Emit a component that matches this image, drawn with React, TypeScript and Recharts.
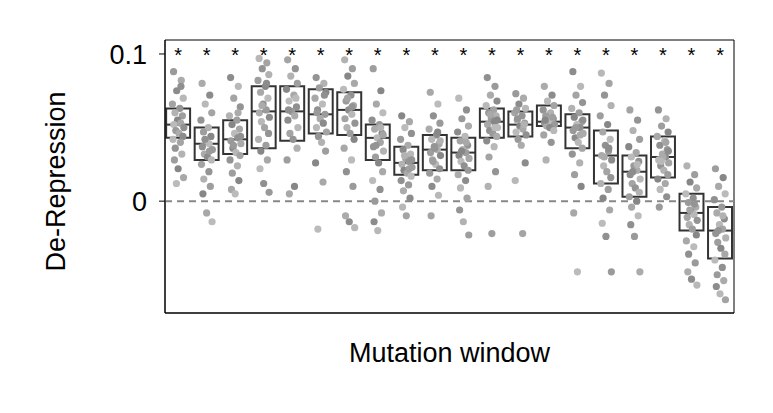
import {
  ComposedChart,
  Scatter,
  XAxis,
  YAxis,
  ReferenceArea,
  ReferenceLine,
} from 'recharts'

// box stats per mutation window: [q1, median, q3]
const Q1 = [0.043, 0.028, 0.032, 0.036, 0.041, 0.046, 0.045, 0.028, 0.018, 0.021, 0.021, 0.043, 0.044, 0.051, 0.036, 0.012, 0.003, 0.016, -0.02, -0.039]
const MEDIAN = [0.052, 0.039, 0.042, 0.061, 0.061, 0.059, 0.062, 0.043, 0.026, 0.035, 0.033, 0.054, 0.052, 0.054, 0.05, 0.031, 0.02, 0.03, -0.008, -0.02]
const Q3 = [0.063, 0.05, 0.055, 0.078, 0.078, 0.076, 0.074, 0.052, 0.037, 0.045, 0.043, 0.063, 0.061, 0.065, 0.059, 0.048, 0.031, 0.044, 0.005, -0.004]

const POINTS: number[][] = [
  [0.088, 0.082, 0.075, 0.07, 0.066, 0.063, 0.06, 0.058, 0.055, 0.053, 0.052, 0.05, 0.048, 0.046, 0.044, 0.042, 0.04, 0.036, 0.032, 0.028, 0.022, 0.016, 0.012, 0.078],
  [0.08, 0.072, 0.066, 0.06, 0.055, 0.05, 0.047, 0.044, 0.041, 0.039, 0.037, 0.035, 0.032, 0.03, 0.028, 0.025, 0.02, 0.015, 0.01, 0.005, -0.008, -0.014, 0.042, 0.034],
  [0.084, 0.078, 0.07, 0.064, 0.058, 0.055, 0.052, 0.049, 0.046, 0.043, 0.041, 0.039, 0.036, 0.033, 0.031, 0.028, 0.024, 0.019, 0.014, 0.008, 0.005, 0.044, 0.038, 0.06],
  [0.097, 0.094, 0.09, 0.086, 0.082, 0.078, 0.074, 0.07, 0.066, 0.062, 0.06, 0.057, 0.054, 0.05, 0.046, 0.042, 0.038, 0.034, 0.028, 0.022, 0.012, 0.006, 0.065, 0.08],
  [0.096, 0.09, 0.085, 0.08, 0.076, 0.072, 0.068, 0.064, 0.061, 0.058, 0.055, 0.05, 0.046, 0.042, 0.036, 0.028, 0.01, 0.005, 0.07, 0.062],
  [0.084, 0.08, 0.077, 0.074, 0.07, 0.066, 0.062, 0.059, 0.056, 0.053, 0.05, 0.047, 0.044, 0.04, 0.034, 0.026, 0.013, -0.019, 0.072, 0.06],
  [0.096, 0.09, 0.085, 0.08, 0.076, 0.072, 0.068, 0.065, 0.062, 0.059, 0.056, 0.053, 0.05, 0.046, 0.042, 0.036, 0.028, 0.02, 0.01, -0.01, -0.014, -0.018, 0.07, 0.064],
  [0.09, 0.075, 0.066, 0.06, 0.055, 0.052, 0.049, 0.046, 0.043, 0.04, 0.037, 0.034, 0.03, 0.026, 0.02, 0.014, 0.008, 0.0, -0.008, -0.014, -0.02, 0.045, 0.038, 0.05],
  [0.058, 0.054, 0.05, 0.046, 0.042, 0.038, 0.035, 0.032, 0.029, 0.027, 0.025, 0.023, 0.021, 0.019, 0.017, 0.014, 0.011, 0.007, 0.002, -0.004, -0.01, 0.028, 0.031, 0.022],
  [0.074, 0.066, 0.058, 0.053, 0.049, 0.045, 0.042, 0.039, 0.037, 0.035, 0.033, 0.031, 0.028, 0.025, 0.022, 0.019, 0.015, 0.01, 0.004, -0.01, 0.036, 0.041, 0.027, 0.047],
  [0.07, 0.062, 0.056, 0.051, 0.047, 0.044, 0.041, 0.038, 0.035, 0.033, 0.031, 0.029, 0.027, 0.024, 0.021, 0.018, 0.014, 0.009, 0.002, -0.006, -0.014, -0.023, 0.034, 0.04],
  [0.084, 0.078, 0.072, 0.068, 0.065, 0.062, 0.06, 0.058, 0.056, 0.054, 0.052, 0.05, 0.048, 0.046, 0.044, 0.041, 0.037, 0.03, 0.02, 0.01, -0.022, 0.055, 0.059, 0.05],
  [0.073, 0.07, 0.066, 0.063, 0.06, 0.058, 0.055, 0.053, 0.051, 0.049, 0.047, 0.045, 0.042, 0.038, 0.026, 0.014, -0.022, 0.056, 0.052, 0.062],
  [0.078, 0.072, 0.068, 0.065, 0.062, 0.06, 0.058, 0.056, 0.055, 0.054, 0.053, 0.052, 0.051, 0.05, 0.048, 0.045, 0.04, 0.028, 0.057, 0.055],
  [0.088, 0.078, 0.072, 0.067, 0.063, 0.06, 0.057, 0.054, 0.052, 0.05, 0.048, 0.046, 0.043, 0.04, 0.036, 0.032, 0.026, 0.018, 0.01, -0.008, -0.048, 0.055, 0.05, 0.045],
  [0.087, 0.08, 0.072, 0.065, 0.058, 0.052, 0.047, 0.042, 0.038, 0.034, 0.031, 0.028, 0.024, 0.02, 0.016, 0.012, 0.008, 0.002, -0.006, -0.015, -0.024, -0.048, 0.03, 0.036],
  [0.062, 0.055, 0.048, 0.042, 0.037, 0.033, 0.03, 0.027, 0.024, 0.021, 0.018, 0.015, 0.012, 0.009, 0.006, 0.003, 0.0, -0.004, -0.01, -0.016, -0.024, -0.048, 0.02, 0.025],
  [0.062, 0.056, 0.051, 0.047, 0.044, 0.041, 0.038, 0.035, 0.032, 0.03, 0.028, 0.026, 0.024, 0.021, 0.018, 0.015, 0.012, 0.008, 0.003, -0.004, 0.03, 0.034, 0.027, 0.04],
  [0.024, 0.018, 0.013, 0.009, 0.005, 0.002, -0.001, -0.004, -0.007, -0.009, -0.011, -0.013, -0.016, -0.019, -0.023, -0.027, -0.031, -0.036, -0.042, -0.048, -0.053, -0.057, -0.006, -0.002],
  [0.022, 0.016, 0.01, 0.005, 0.001, -0.004, -0.008, -0.012, -0.016, -0.019, -0.022, -0.025, -0.028, -0.032, -0.036, -0.04, -0.045, -0.05, -0.054, -0.058, -0.063, -0.067, -0.02, -0.01],
]

// horizontal jitter (in window units) and grey shade for each measurement slot
const JITTER = [-0.16, 0.11, -0.05, 0.18, -0.2, 0.06, -0.11, 0.15, -0.02, 0.09, -0.15, 0.2, -0.08, 0.03, 0.17, -0.18, 0.08, -0.1, 0.13, -0.13, 0.0, 0.19, -0.06, 0.1]
const SHADES = ['#9a9a9a', '#ababab', '#8c8c8c', '#b8b8b8', '#a4a4a4', '#949494', '#b2b2b2', '#9e9e9e', '#878787', '#a8a8a8', '#bbbbbb', '#909090']

const WINDOWS = POINTS.map((_, i) => i + 1)

const dots = POINTS.flatMap((vals, g) =>
  vals.map((v, j) => ({ x: g + 1 + JITTER[j % JITTER.length], y: v, fill: SHADES[(j + g) % SHADES.length] }))
)
const stars = WINDOWS.map((w) => ({ x: w, y: 0.1015 }))

const BOX_HALF = 0.42
const FONT = 'Helvetica, Arial, "Liberation Sans", sans-serif'

export default function App() {
  return (
    <div style={{ margin: -8 }}>
      <ComposedChart
        width={773}
        height={413}
        margin={{ top: 40, right: 39, left: 0, bottom: 0 }}
        style={{ fontFamily: FONT }}
      >
        <XAxis
          type="number"
          dataKey="x"
          domain={[0.54, 20.49]}
          ticks={[]}
          tick={false}
          axisLine={{ stroke: '#000' }}
          height={100}
          label={{ value: 'Mutation window', position: 'insideTop', offset: 30, fontSize: 27, fill: '#000' }}
        />
        <YAxis
          type="number"
          dataKey="y"
          domain={[-0.076, 0.1095]}
          ticks={[0, 0.1]}
          tickFormatter={(v) => (v === 0 ? '0' : String(v))}
          tick={{ fontSize: 27, fill: '#000', dx: -10 }}
          tickSize={6}
          axisLine={{ stroke: '#000' }}
          tickLine={{ stroke: '#000' }}
          width={165}
          label={{ value: 'De-Repression', angle: -90, position: 'insideLeft', offset: 55, fontSize: 27, fill: '#000', dy: 95 }}
        />
        <ReferenceArea x1={0.54} x2={20.49} y1={-0.076} y2={0.1095} fill="none" stroke="#000" strokeWidth={1} ifOverflow="visible" />
        <ReferenceLine y={0} stroke="#888" strokeWidth={2} strokeDasharray="7 5" />
        {WINDOWS.map((w, i) => (
          <ReferenceArea
            key={`box${w}`}
            x1={w - BOX_HALF}
            x2={w + BOX_HALF}
            y1={Q1[i]}
            y2={Q3[i]}
            fill="none"
            stroke="#333"
            strokeWidth={2}
          />
        ))}
        <Scatter
          data={dots}
          isAnimationActive={false}
          shape={(p: any) => <circle cx={p.cx} cy={p.cy} r={3.6} fill={p.payload.fill} />}
        />
        {WINDOWS.map((w, i) => (
          <ReferenceLine
            key={`med${w}`}
            segment={[{ x: w - BOX_HALF, y: MEDIAN[i] }, { x: w + BOX_HALF, y: MEDIAN[i] }]}
            stroke="#333"
            strokeWidth={2}
          />
        ))}
        <Scatter
          data={stars}
          isAnimationActive={false}
          shape={(p: any) => (
            <text x={p.cx} y={p.cy + 10} textAnchor="middle" fontSize={20} fill="#000" fontFamily={FONT}>
              *
            </text>
          )}
        />
      </ComposedChart>
    </div>
  )
}
